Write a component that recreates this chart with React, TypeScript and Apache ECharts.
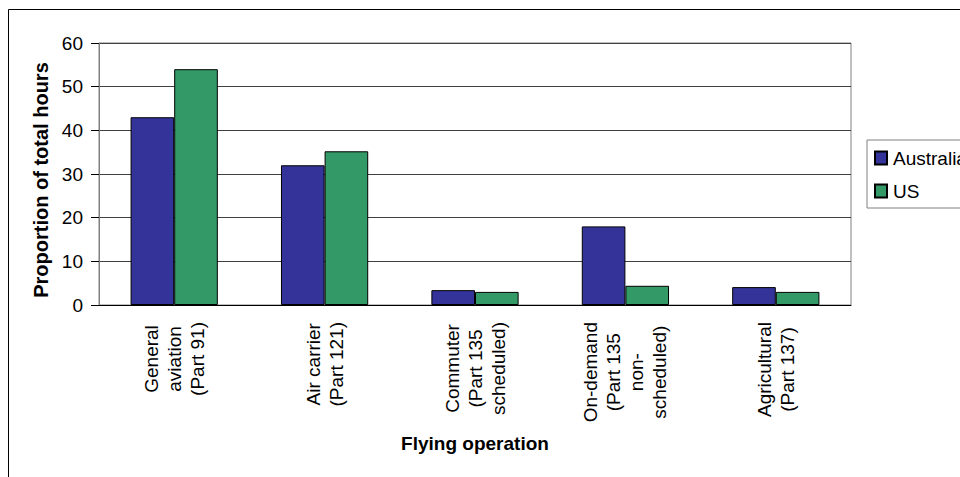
import React, { useEffect, useRef } from "react";
import * as echarts from "echarts";

// Flying operation categories (line breaks as shown under the axis)
const categories: string[] = [
  "General\naviation\n(Part 91)",
  "Air carrier\n(Part 121)",
  "Commuter\n(Part 135\nscheduled)",
  "On-demand\n(Part 135\nnon-\nscheduled)",
  "Agricultural\n(Part 137)",
];

// Proportion of total hours (%)
const australia: number[] = [43, 32, 3.4, 18, 4.1];
const us: number[] = [54, 35.2, 3, 4.4, 3];

const seriesNames: string[] = ["Australia", "US"];
const yTicks = { min: 0, max: 60, interval: 10 };

const FONT = 'Arial, "Liberation Sans", sans-serif';
const CAT_FONT_SIZE = 19;
const CAT_LINE_HEIGHT = 23;

// Builds rich-text styles so that every line of a category label is
// centred on the longest line of its block.
function centredLabelStyles(labels: string[]) {
  const ctx = document.createElement("canvas").getContext("2d");
  const rich: Record<string, object> = {};
  const tagged: Record<string, string> = {};
  labels.forEach((label, i) => {
    const lines = label.split("\n");
    let widths = lines.map(() => 0);
    if (ctx) {
      ctx.font = `${CAT_FONT_SIZE}px ${FONT}`;
      widths = lines.map((l) => ctx.measureText(l).width);
    }
    const maxW = Math.max(...widths);
    tagged[label] = lines
      .map((line, j) => {
        const key = `l${i}_${j}`;
        rich[key] = {
          fontFamily: FONT,
          fontSize: CAT_FONT_SIZE,
          lineHeight: CAT_LINE_HEIGHT,
          color: "#000000",
          padding: [0, (maxW - widths[j]) / 2, 0, 0],
        };
        return `{${key}|${line}}`;
      })
      .join("\n");
  });
  return { rich, tagged };
}

export default function App() {
  const ref = useRef<HTMLDivElement>(null);

  useEffect(() => {
    if (!ref.current) return;
    const chart = echarts.init(ref.current, undefined, { renderer: "svg" });
    const { rich, tagged } = centredLabelStyles(categories);

    chart.setOption({
      animation: false,
      backgroundColor: "#ffffff",
      textStyle: { fontFamily: FONT },
      graphic: [
        {
          type: "rect",
          shape: { x: 8.5, y: 9.5, width: 2000, height: 2000 },
          style: { fill: "none", stroke: "#000000", lineWidth: 1 },
          silent: true,
        },
      ],
      grid: {
        left: 99,
        top: 43,
        right: 109,
        bottom: 172,
        containLabel: false,
        outerBoundsMode: "none",
        show: true,
        borderColor: "#808080",
        borderWidth: 1,
        backgroundColor: "transparent",
      },
      legend: {
        orient: "vertical",
        left: 867,
        top: 140,
        padding: [8, 10, 7, 7],
        itemGap: 13,
        itemWidth: 12,
        itemHeight: 13,
        borderColor: "#808080",
        borderWidth: 1,
        icon: "rect",
        data: seriesNames,
        textStyle: {
          fontFamily: FONT,
          fontSize: 19,
          lineHeight: 20,
          color: "#000000",
          padding: [0, 0, 0, 1],
        },
      },
      xAxis: {
        type: "category",
        data: categories,
        name: "Flying operation",
        nameLocation: "middle",
        nameGap: 129,
        nameTextStyle: {
          fontFamily: FONT,
          fontSize: 19,
          fontWeight: "bold",
          color: "#000000",
        },
        axisLine: { lineStyle: { color: "#000000", width: 1 } },
        axisTick: { length: 7, lineStyle: { color: "#000000" } },
        axisLabel: {
          interval: 0,
          rotate: 90,
          margin: 17,
          formatter: (value: string) => tagged[value] ?? value,
          rich,
          fontFamily: FONT,
          fontSize: CAT_FONT_SIZE,
          lineHeight: CAT_LINE_HEIGHT,
          color: "#000000",
        },
        splitLine: { show: false },
      },
      yAxis: {
        type: "value",
        min: yTicks.min,
        max: yTicks.max,
        interval: yTicks.interval,
        name: "Proportion of total hours",
        nameLocation: "middle",
        nameGap: 46,
        nameTextStyle: {
          fontFamily: FONT,
          fontSize: 20,
          fontWeight: "bold",
          color: "#000000",
          padding: [0, 12, 0, 0],
        },
        axisLine: { show: true, lineStyle: { color: "#808080", width: 1 } },
        axisTick: { show: true, length: 8, lineStyle: { color: "#000000" } },
        axisLabel: {
          margin: 16,
          fontFamily: FONT,
          fontSize: 19,
          color: "#000000",
        },
        splitLine: { show: true, lineStyle: { color: "#404040", width: 1 } },
      },
      series: [
        {
          name: seriesNames[0],
          type: "bar",
          data: australia,
          barGap: "0%",
          barCategoryGap: "42%",
          itemStyle: { color: "#333399", borderColor: "#000000", borderWidth: 1 },
        },
        {
          name: seriesNames[1],
          type: "bar",
          data: us,
          barGap: "0%",
          barCategoryGap: "42%",
          itemStyle: { color: "#339966", borderColor: "#000000", borderWidth: 1 },
        },
      ],
    });
    return () => chart.dispose();
  }, []);

  return (
    <div
      ref={ref}
      style={{ position: "fixed", left: 0, top: 0, width: 960, height: 477 }}
    />
  );
}
